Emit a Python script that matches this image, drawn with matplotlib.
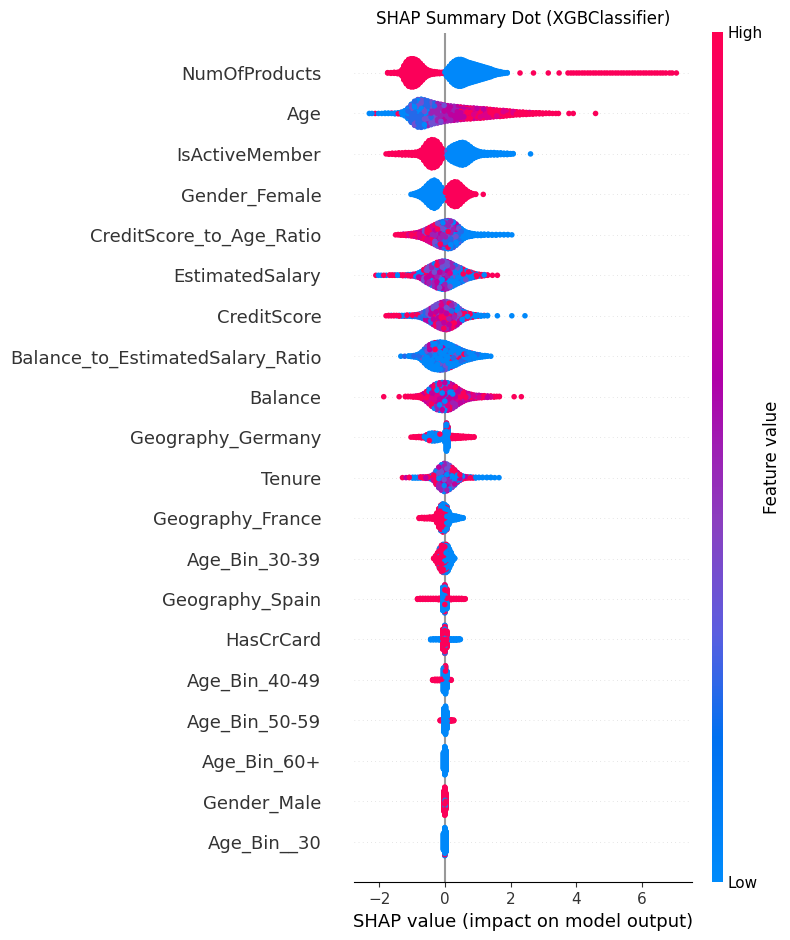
import numpy as np
import matplotlib
matplotlib.use("Agg")
import matplotlib.pyplot as plt
from matplotlib.colors import LinearSegmentedColormap

# feature order, top row first
FEATURES = [
    "NumOfProducts", "Age", "IsActiveMember", "Gender_Female",
    "CreditScore_to_Age_Ratio", "EstimatedSalary", "CreditScore",
    "Balance_to_EstimatedSalary_Ratio", "Balance", "Geography_Germany",
    "Tenure", "Geography_France", "Age_Bin_30-39", "Geography_Spain",
    "HasCrCard", "Age_Bin_40-49", "Age_Bin_50-59", "Age_Bin_60+",
    "Gender_Male", "Age_Bin__30",
]

# feature value (0 = low, 1 = high) for each colour letter used below
COLOR_LEVELS = {"B": 0.02, "b": 0.22, "V": 0.35, "P": 0.5, "M": 0.65, "m": 0.78, "R": 0.97}

# each row: (shap value, dots stacked at that value, colour mix of those dots)
NUM_OF_PRODUCTS = [
    (-1.74, 2, "R"), (-1.64, 3, "R"), (-1.54, 4, "R"), (-1.44, 5, "R"), (-1.36, 8, "R"),
    (-1.30, 20, "R"), (-1.24, 44, "R"), (-1.17, 66, "R"), (-1.10, 80, "R"), (-1.03, 84, "R"),
    (-0.96, 84, "R"), (-0.89, 80, "R"), (-0.82, 72, "R"), (-0.75, 58, "R"), (-0.68, 44, "R"),
    (-0.61, 30, "R"), (-0.54, 20, "R"), (-0.47, 14, "R"), (-0.40, 10, "R"), (-0.32, 8, "R"),
    (-0.24, 6, "R"), (-0.16, 5, "R"), (-0.08, 4, "R"),
    (0.00, 8, "B"), (0.07, 24, "B"), (0.14, 40, "B"), (0.21, 56, "B"), (0.28, 68, "B"),
    (0.35, 76, "B"), (0.42, 80, "B"), (0.49, 80, "B"), (0.56, 76, "B"), (0.63, 70, "B"),
    (0.70, 64, "B"), (0.77, 60, "B"), (0.84, 56, "B"), (0.91, 52, "B"), (0.98, 48, "B"),
    (1.05, 44, "B"), (1.12, 40, "B"), (1.19, 36, "B"), (1.26, 32, "B"), (1.33, 28, "B"),
    (1.40, 24, "B"), (1.47, 18, "B"), (1.54, 14, "B"), (1.61, 10, "B"), (1.68, 8, "B"),
    (1.75, 5, "B"), (1.82, 3, "B"), (1.90, 2, "B"),
    (2.29, 1, "R"), (2.70, 1, "R"), (3.15, 1, "R"), (3.48, 1, "R"),
    (3.75, 1, "R"), (3.84, 1, "R"), (3.92, 1, "R"), (4.01, 1, "R"), (4.09, 1, "R"),
    (4.18, 1, "R"), (4.26, 1, "R"), (4.35, 1, "R"), (4.43, 1, "R"), (4.52, 1, "R"),
    (4.60, 1, "R"), (4.69, 1, "R"), (4.77, 1, "R"), (4.86, 1, "R"), (4.94, 1, "R"),
    (5.03, 1, "R"), (5.11, 1, "R"), (5.20, 1, "R"), (5.28, 1, "R"), (5.37, 1, "R"),
    (5.45, 1, "R"), (5.54, 1, "R"), (5.62, 1, "R"), (5.71, 1, "R"), (5.79, 1, "R"),
    (5.88, 1, "R"), (5.96, 1, "R"), (6.05, 1, "R"), (6.13, 1, "R"), (6.22, 1, "R"),
    (6.30, 1, "R"), (6.39, 1, "R"), (6.47, 1, "R"), (6.56, 1, "R"), (6.64, 1, "R"),
    (6.73, 1, "R"), (6.84, 1, "R"), (6.92, 1, "R"), (7.05, 1, "R"),
]

AGE = [
    (-2.30, 1, "B"), (-2.22, 1, "B"), (-2.12, 1, "R"), (-2.02, 1, "B"), (-1.92, 1, "B"),
    (-1.82, 2, "B"), (-1.72, 2, "B"), (-1.62, 2, "BR"), (-1.52, 3, "B"), (-1.42, 4, "BBR"),
    (-1.32, 8, "BBR"), (-1.22, 16, "BbB"), (-1.12, 32, "Bbb"), (-1.02, 54, "bBbV"),
    (-0.92, 72, "bBVb"), (-0.82, 82, "bVbB"), (-0.72, 84, "bVbB"), (-0.62, 80, "VbBV"),
    (-0.52, 74, "VbPB"), (-0.42, 68, "VPbV"), (-0.32, 62, "VPVb"), (-0.22, 58, "PVP"),
    (-0.12, 54, "PVM"), (-0.02, 50, "PMV"), (0.08, 46, "PM"), (0.18, 44, "MPM"),
    (0.28, 42, "MP"), (0.38, 40, "MMP"), (0.48, 38, "MMR"), (0.58, 36, "MmM"),
    (0.68, 34, "MmR"), (0.78, 33, "mMR"), (0.88, 32, "mMm"), (0.98, 30, "mRM"),
    (1.08, 29, "mRm"), (1.18, 28, "mMR"), (1.28, 26, "mRm"), (1.38, 24, "mR"),
    (1.48, 22, "mRR"), (1.58, 20, "mR"), (1.68, 19, "RmR"), (1.78, 18, "Rm"),
    (1.88, 16, "RmR"), (1.98, 14, "R"), (2.08, 12, "Rm"), (2.18, 10, "R"), (2.28, 9, "RmR"),
    (2.38, 8, "R"), (2.48, 7, "R"), (2.58, 6, "Rm"), (2.68, 5, "R"), (2.78, 4, "R"),
    (2.88, 4, "R"), (2.98, 3, "R"), (3.08, 2, "R"), (3.18, 2, "R"), (3.28, 1, "R"),
    (3.38, 1, "R"), (3.46, 1, "R"), (3.78, 1, "R"), (3.91, 1, "R"), (4.59, 1, "R"),
]

IS_ACTIVE_MEMBER = [
    (-1.79, 1, "R"), (-1.70, 3, "R"), (-1.60, 4, "R"), (-1.50, 5, "R"), (-1.40, 6, "R"),
    (-1.30, 7, "R"), (-1.20, 8, "R"), (-1.10, 8, "R"), (-1.00, 9, "R"), (-0.90, 10, "R"),
    (-0.80, 14, "R"), (-0.72, 22, "R"), (-0.64, 40, "R"), (-0.56, 62, "R"), (-0.48, 78, "R"),
    (-0.40, 84, "R"), (-0.32, 82, "R"), (-0.24, 74, "R"), (-0.16, 56, "R"), (-0.09, 32, "R"),
    (-0.03, 12, "RV"),
    (0.02, 10, "BV"), (0.08, 22, "B"), (0.15, 36, "B"), (0.22, 46, "B"), (0.30, 54, "B"),
    (0.38, 60, "B"), (0.46, 66, "B"), (0.54, 68, "B"), (0.62, 64, "B"), (0.70, 54, "B"),
    (0.78, 42, "B"), (0.86, 30, "B"), (0.94, 22, "B"), (1.02, 16, "B"), (1.10, 12, "B"),
    (1.20, 10, "B"), (1.30, 9, "B"), (1.40, 8, "B"), (1.50, 8, "B"), (1.60, 7, "B"),
    (1.70, 6, "B"), (1.80, 5, "B"), (1.90, 5, "B"), (2.00, 3, "B"), (2.08, 2, "B"),
    (2.61, 1, "B"),
]

GENDER_FEMALE = [
    (-1.03, 1, "B"), (-0.95, 4, "B"), (-0.88, 8, "B"), (-0.80, 14, "B"), (-0.72, 22, "B"),
    (-0.64, 34, "B"), (-0.56, 50, "B"), (-0.48, 66, "B"), (-0.40, 78, "B"), (-0.32, 84, "B"),
    (-0.24, 76, "B"), (-0.17, 60, "B"), (-0.10, 42, "B"), (-0.04, 26, "B"),
    (0.02, 24, "R"), (0.08, 40, "R"), (0.15, 56, "R"), (0.22, 68, "R"), (0.30, 74, "R"),
    (0.38, 72, "R"), (0.46, 60, "R"), (0.54, 44, "R"), (0.62, 30, "R"), (0.70, 18, "R"),
    (0.78, 10, "R"), (0.86, 4, "R"), (0.94, 2, "R"), (1.17, 1, "R"),
]

CREDIT_SCORE_TO_AGE_RATIO = [
    (-1.50, 1, "R"), (-1.42, 2, "R"), (-1.34, 3, "R"), (-1.26, 4, "RM"), (-1.18, 5, "R"),
    (-1.10, 6, "RmR"), (-1.02, 8, "Rm"), (-0.94, 10, "mR"), (-0.86, 13, "RmM"),
    (-0.78, 16, "mRM"), (-0.70, 22, "MRm"), (-0.62, 28, "RMmV"), (-0.54, 36, "MRmP"),
    (-0.46, 44, "mMPR"), (-0.38, 52, "MPRm"), (-0.30, 60, "PMVR"), (-0.22, 68, "MPVRb"),
    (-0.14, 74, "PVMbR"), (-0.06, 78, "VPbMB"), (0.02, 82, "VbPBM"), (0.10, 84, "bVBPR"),
    (0.18, 82, "bVBP"), (0.26, 76, "bBVP"), (0.34, 64, "BbVM"), (0.42, 50, "BbV"),
    (0.50, 36, "BbB"), (0.58, 24, "B"), (0.66, 16, "B"), (0.74, 12, "BbB"), (0.82, 9, "B"),
    (0.90, 6, "B"), (1.00, 5, "B"), (1.10, 5, "B"), (1.20, 4, "B"), (1.32, 4, "B"),
    (1.44, 3, "B"), (1.56, 3, "B"), (1.68, 2, "B"), (1.80, 2, "B"), (1.92, 2, "B"),
    (2.04, 1, "B"),
]

ESTIMATED_SALARY = [
    (-2.10, 1, "R"), (-2.02, 1, "B"), (-1.94, 1, "B"), (-1.86, 1, "R"), (-1.78, 1, "B"),
    (-1.68, 2, "R"), (-1.60, 2, "R"), (-1.52, 2, "RB"), (-1.44, 2, "B"), (-1.36, 2, "BR"),
    (-1.28, 3, "R"), (-1.20, 3, "BR"), (-1.12, 4, "RB"), (-1.04, 5, "BRV"), (-0.96, 6, "RBm"),
    (-0.88, 9, "BRM"), (-0.80, 14, "RBMV"), (-0.72, 22, "MBRV"), (-0.64, 34, "VRMB"),
    (-0.56, 44, "MVBR"), (-0.48, 52, "PBMV"), (-0.40, 60, "VMBP"), (-0.32, 68, "MVPB"),
    (-0.24, 76, "PbMR"), (-0.16, 80, "VMBP"), (-0.08, 84, "MPBV"), (0.00, 84, "PVMB"),
    (0.08, 80, "BVPM"), (0.16, 74, "BPVm"), (0.24, 66, "BVBP"), (0.32, 58, "BbVB"),
    (0.40, 50, "BVBR"), (0.48, 44, "BBbM"), (0.56, 36, "BbBR"), (0.64, 28, "BBV"),
    (0.72, 22, "BRB"), (0.80, 18, "BBR"), (0.88, 13, "BR"), (0.96, 9, "RB"), (1.04, 6, "BR"),
    (1.12, 5, "R"), (1.20, 4, "RB"), (1.30, 2, "R"), (1.45, 1, "R"), (1.60, 1, "R"),
]

CREDIT_SCORE = [
    (-1.79, 1, "R"), (-1.71, 2, "R"), (-1.63, 2, "RB"), (-1.55, 2, "R"), (-1.47, 2, "BR"),
    (-1.39, 3, "RB"), (-1.31, 3, "B"), (-1.23, 3, "RB"), (-1.15, 4, "BR"), (-1.07, 4, "B"),
    (-0.99, 5, "BR"), (-0.91, 6, "BbR"), (-0.83, 8, "bBR"), (-0.75, 12, "BbV"),
    (-0.67, 18, "bVBR"), (-0.59, 26, "VbMB"), (-0.51, 34, "bVMR"), (-0.43, 44, "VMbP"),
    (-0.35, 54, "MVPR"), (-0.27, 64, "PMRV"), (-0.19, 72, "MRPV"), (-0.11, 78, "RMPm"),
    (-0.03, 82, "MPRm"), (0.05, 84, "PMRV"), (0.13, 80, "MRPV"), (0.21, 74, "RPMb"),
    (0.29, 66, "PMRV"), (0.37, 56, "MRVB"), (0.45, 42, "RVMB"), (0.53, 30, "RBM"),
    (0.61, 22, "BRV"), (0.69, 16, "RBR"), (0.77, 12, "BR"), (0.85, 9, "RB"), (0.93, 6, "BR"),
    (1.01, 4, "RB"), (1.10, 3, "B"), (1.20, 2, "BR"), (1.30, 2, "B"),
    (1.60, 1, "B"), (2.04, 1, "B"), (2.44, 1, "B"),
]

BALANCE_TO_SALARY_RATIO = [
    (-1.34, 1, "B"), (-1.22, 1, "b"), (-1.10, 2, "B"), (-1.02, 3, "B"), (-0.94, 5, "Bb"),
    (-0.86, 8, "B"), (-0.78, 14, "BbB"), (-0.70, 26, "BBV"), (-0.62, 42, "BbRB"),
    (-0.54, 58, "BVBR"), (-0.46, 68, "BbBM"), (-0.38, 76, "BVBB"), (-0.30, 80, "BBbR"),
    (-0.22, 82, "BbBV"), (-0.14, 84, "BBVB"), (-0.06, 82, "bBBM"), (0.02, 80, "BBVB"),
    (0.10, 74, "BbBB"), (0.18, 68, "BBRB"), (0.26, 60, "BBbB"), (0.34, 54, "BVBB"),
    (0.42, 46, "BBRB"), (0.50, 38, "BbB"), (0.58, 32, "BBR"), (0.66, 26, "BbB"),
    (0.74, 22, "B"), (0.82, 18, "BBR"), (0.90, 14, "B"), (0.98, 10, "Bb"), (1.06, 8, "B"),
    (1.14, 5, "B"), (1.22, 4, "B"), (1.30, 2, "B"), (1.40, 1, "B"),
]

BALANCE = [
    (-1.86, 1, "R"), (-1.39, 1, "R"), (-1.20, 2, "R"), (-1.12, 2, "R"), (-1.04, 2, "R"),
    (-0.96, 3, "R"), (-0.88, 4, "Rm"), (-0.80, 6, "R"), (-0.72, 10, "RmR"), (-0.64, 18, "mRM"),
    (-0.56, 30, "RMm"), (-0.48, 44, "MRmB"), (-0.40, 58, "mMRB"), (-0.32, 70, "BMmR"),
    (-0.24, 78, "MBPm"), (-0.16, 82, "BmMR"), (-0.08, 84, "MBPB"), (0.00, 84, "BMBm"),
    (0.08, 82, "mBMP"), (0.16, 78, "MBRm"), (0.24, 70, "PMmB"), (0.32, 60, "MmPR"),
    (0.40, 48, "mMPR"), (0.48, 38, "MmRP"), (0.56, 30, "mMPR"), (0.64, 22, "MmR"),
    (0.72, 18, "mPM"), (0.80, 14, "MRm"), (0.88, 11, "mMR"), (0.96, 9, "PmR"), (1.04, 8, "mM"),
    (1.12, 7, "Rm"), (1.20, 6, "mR"), (1.30, 5, "M"), (1.40, 4, "mR"), (1.50, 3, "R"),
    (1.58, 2, "R"), (1.66, 2, "R"), (2.11, 1, "R"), (2.33, 1, "R"),
]

GEOGRAPHY_GERMANY = [
    (-1.03, 1, "R"), (-0.95, 2, "R"), (-0.87, 3, "R"), (-0.79, 4, "R"), (-0.71, 5, "R"),
    (-0.63, 6, "RB"), (-0.55, 14, "BR"), (-0.47, 22, "BBR"), (-0.39, 24, "B"),
    (-0.31, 24, "BBR"), (-0.23, 22, "B"), (-0.15, 18, "BR"), (-0.08, 12, "B"),
    (0.00, 30, "B"), (0.05, 84, "BBBBBR"), (0.10, 60, "BBBR"), (0.16, 12, "R"),
    (0.24, 10, "R"), (0.32, 9, "R"), (0.40, 8, "R"), (0.48, 7, "R"), (0.56, 6, "R"),
    (0.64, 5, "R"), (0.72, 4, "R"), (0.80, 3, "R"), (0.89, 2, "R"),
]

TENURE = [
    (-1.29, 1, "R"), (-1.18, 1, "M"), (-1.08, 2, "R"), (-0.98, 3, "B"), (-0.90, 3, "B"),
    (-0.82, 3, "BV"), (-0.74, 4, "BR"), (-0.66, 4, "RM"), (-0.58, 5, "MR"), (-0.50, 6, "RmM"),
    (-0.42, 10, "MRB"), (-0.34, 20, "mRBV"), (-0.26, 42, "MVRB"), (-0.18, 62, "PMBV"),
    (-0.10, 76, "MVPB"), (-0.02, 84, "VMBP"), (0.06, 80, "PBMV"), (0.14, 72, "BMPV"),
    (0.22, 60, "MBVR"), (0.30, 46, "BRMV"), (0.38, 30, "RBM"), (0.46, 18, "BMR"),
    (0.54, 10, "RB"), (0.62, 6, "RM"), (0.70, 4, "R"), (0.78, 4, "RB"), (0.86, 3, "R"),
    (0.94, 3, "B"), (1.04, 2, "B"), (1.15, 2, "B"), (1.28, 2, "B"), (1.40, 2, "B"),
    (1.52, 1, "B"), (1.65, 1, "B"),
]

GEOGRAPHY_FRANCE = [
    (-0.78, 3, "R"), (-0.70, 4, "R"), (-0.62, 5, "R"), (-0.54, 5, "R"), (-0.46, 6, "R"),
    (-0.38, 7, "R"), (-0.30, 12, "R"), (-0.24, 30, "R"), (-0.18, 56, "R"), (-0.12, 76, "RRB"),
    (-0.06, 84, "RRRB"), (0.00, 80, "RBB"), (0.06, 70, "BBR"), (0.12, 40, "B"),
    (0.18, 20, "B"), (0.26, 14, "B"), (0.34, 12, "B"), (0.42, 8, "B"), (0.50, 4, "B"),
    (0.56, 2, "B"),
]

AGE_BIN_30_39 = [
    (-0.34, 2, "R"), (-0.28, 16, "R"), (-0.22, 34, "R"), (-0.16, 60, "RRB"), (-0.10, 78, "R"),
    (-0.05, 84, "RRB"), (0.00, 70, "BR"), (0.04, 84, "BBR"), (0.09, 76, "B"), (0.14, 56, "B"),
    (0.19, 36, "B"), (0.24, 16, "B"), (0.30, 2, "B"),
]

GEOGRAPHY_SPAIN = [
    (-0.83, 3, "R"), (-0.75, 4, "R"), (-0.67, 4, "R"), (-0.59, 4, "R"), (-0.51, 4, "R"),
    (-0.43, 4, "R"), (-0.35, 4, "R"), (-0.27, 4, "R"), (-0.19, 5, "R"), (-0.12, 6, "R"),
    (-0.06, 70, "B"), (0.00, 84, "BBR"), (0.06, 60, "BR"), (0.12, 6, "R"), (0.19, 5, "R"),
    (0.27, 4, "R"), (0.35, 4, "R"), (0.43, 4, "R"), (0.51, 4, "R"), (0.58, 3, "R"),
    (0.62, 2, "R"),
]

HAS_CR_CARD = [
    (-0.43, 3, "B"), (-0.35, 4, "B"), (-0.27, 4, "B"), (-0.19, 4, "B"), (-0.12, 5, "B"),
    (-0.06, 60, "R"), (0.00, 84, "RRB"), (0.06, 50, "R"), (0.12, 6, "B"), (0.19, 5, "B"),
    (0.27, 5, "B"), (0.35, 5, "B"), (0.43, 4, "B"), (0.47, 2, "B"),
]

AGE_BIN_40_49 = [
    (-0.37, 3, "R"), (-0.30, 5, "R"), (-0.23, 5, "R"), (-0.16, 5, "R"), (-0.09, 5, "R"),
    (-0.04, 70, "B"), (0.02, 84, "BBBR"), (0.07, 50, "B"), (0.13, 4, "R"), (0.19, 3, "R"),
]

AGE_BIN_50_59 = [
    (-0.14, 3, "R"), (-0.08, 4, "R"), (-0.03, 70, "B"), (0.02, 84, "B"), (0.07, 50, "B"),
    (0.13, 5, "R"), (0.20, 5, "R"), (0.27, 3, "R"),
]

AGE_BIN_60_PLUS = [
    (-0.04, 50, "B"), (0.00, 84, "B"), (0.04, 60, "B"),
]

GENDER_MALE = [
    (-0.03, 60, "R"), (0.00, 84, "R"), (0.03, 50, "R"), (0.01, 40, "B"),
]

AGE_BIN_UNDER_30 = [
    (-0.04, 50, "B"), (0.00, 84, "BBBBBBBBBBR"), (0.04, 60, "B"),
]

ROWS = [
    NUM_OF_PRODUCTS, AGE, IS_ACTIVE_MEMBER, GENDER_FEMALE, CREDIT_SCORE_TO_AGE_RATIO,
    ESTIMATED_SALARY, CREDIT_SCORE, BALANCE_TO_SALARY_RATIO, BALANCE, GEOGRAPHY_GERMANY,
    TENURE, GEOGRAPHY_FRANCE, AGE_BIN_30_39, GEOGRAPHY_SPAIN, HAS_CR_CARD,
    AGE_BIN_40_49, AGE_BIN_50_59, AGE_BIN_60_PLUS, GENDER_MALE, AGE_BIN_UNDER_30,
]

# shap-like red/blue colormap
CMAP = LinearSegmentedColormap.from_list("red_blue", [
    (0.0, "#008bfb"), (0.17, "#0070f0"), (0.29, "#5a5ee0"), (0.42, "#8a40c0"),
    (0.59, "#b000a8"), (0.78, "#dc0088"), (1.0, "#ff0052"),
])

AXIS_COLOR = "#333333"
ROW_HEIGHT = 0.4


def swarm(bins):
    # stack dots alternately above / below the row line, like shap does
    xs, ys, vs = [], [], []
    for x, n, mix in bins:
        for layer in range(n):
            xs.append(x)
            ys.append(np.ceil(layer / 2) * ((layer % 2) * 2 - 1))
            vs.append(COLOR_LEVELS[mix[layer % len(mix)]])
    ys = np.array(ys, dtype=float)
    ys *= 0.9 * (ROW_HEIGHT / np.max(ys + 1))
    xs, vs = np.array(xs), np.array(vs)
    # shap draws in sample order, not bin order: use a fixed scrambled draw order
    order = np.argsort((np.arange(len(xs)) * 0.6180339887) % 1.0, kind="stable")
    return xs[order], ys[order], vs[order]


def main():
    fig = plt.figure(figsize=(7.9, 9.4), dpi=100)
    ax = fig.add_axes([0.448, 0.0614, 0.4276, 0.904])
    cax = fig.add_axes([0.9013, 0.0617, 0.0139, 0.904])

    n = len(FEATURES)
    ax.axvline(x=0, color="#999999", zorder=-1)
    for i, (name, bins) in enumerate(zip(FEATURES, ROWS)):
        pos = n - 1 - i
        ax.axhline(y=pos, color="#cccccc", lw=0.5, dashes=(1, 5), zorder=-1)
        xs, ys, vs = swarm(bins)
        ax.scatter(xs, pos + ys, c=vs, cmap=CMAP, vmin=0, vmax=1, s=16,
                   linewidth=0, alpha=1, zorder=3, rasterized=True)

    ax.xaxis.set_ticks_position("bottom")
    ax.yaxis.set_ticks_position("none")
    for side in ("right", "top", "left"):
        ax.spines[side].set_visible(False)
    ax.tick_params(color=AXIS_COLOR, labelcolor=AXIS_COLOR)
    ax.set_yticks(range(n))
    ax.set_yticklabels(FEATURES[::-1], fontsize=13)
    ax.tick_params("y", length=20, width=0.5, which="major")
    ax.tick_params("x", labelsize=11)
    ax.set_ylim(-1, n)
    ax.set_xlabel("SHAP value (impact on model output)", fontsize=13)
    ax.set_title("SHAP Summary Dot (XGBClassifier)")

    sm = plt.cm.ScalarMappable(cmap=CMAP)
    sm.set_array([0, 1])
    cb = fig.colorbar(sm, cax=cax, ticks=[0, 1])
    cb.set_ticklabels(["Low", "High"])
    cb.set_label("Feature value", size=12, labelpad=0)
    cb.ax.tick_params(labelsize=11, length=0)
    cb.outline.set_visible(False)

    fig.savefig("out.png", dpi=100)


if __name__ == "__main__":
    main()
